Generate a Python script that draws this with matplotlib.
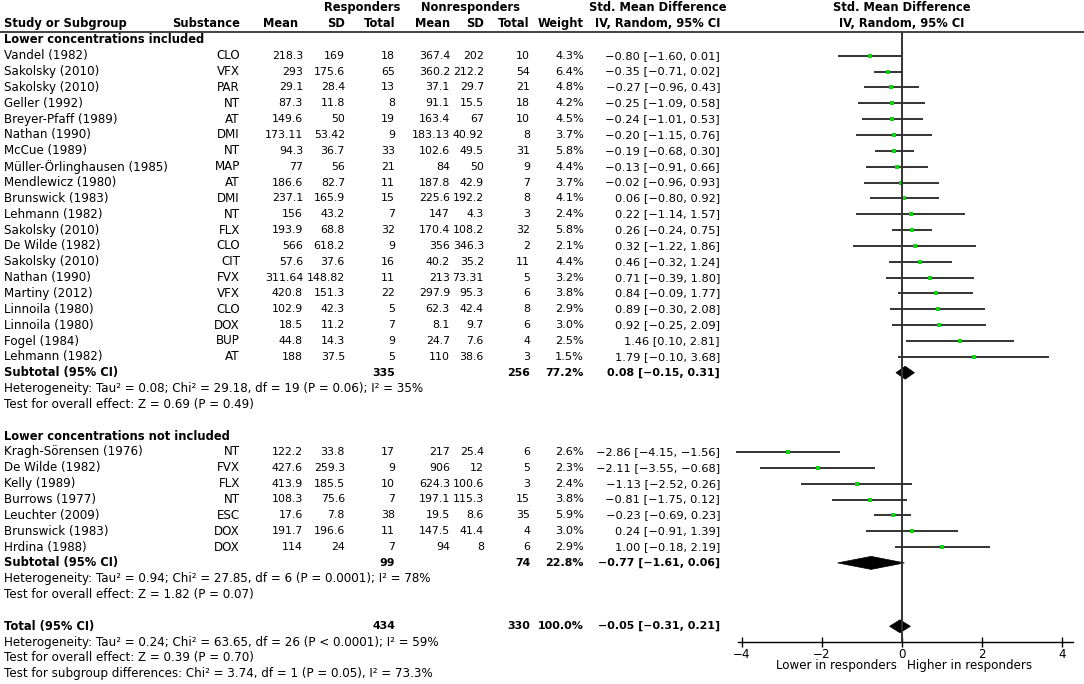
import matplotlib.pyplot as plt
from matplotlib.patches import Polygon

# Lower concentrations included
g1_study = ["Vandel (1982)", "Sakolsky (2010)", "Sakolsky (2010)", "Geller (1992)", "Breyer-Pfaff (1989)",
            "Nathan (1990)", "McCue (1989)", "Müller-Örlinghausen (1985)", "Mendlewicz (1980)", "Brunswick (1983)",
            "Lehmann (1982)", "Sakolsky (2010)", "De Wilde (1982)", "Sakolsky (2010)", "Nathan (1990)",
            "Martiny (2012)", "Linnoila (1980)", "Linnoila (1980)", "Fogel (1984)", "Lehmann (1982)"]
g1_subst = ["CLO", "VFX", "PAR", "NT", "AT", "DMI", "NT", "MAP", "AT", "DMI",
            "NT", "FLX", "CLO", "CIT", "FVX", "VFX", "CLO", "DOX", "BUP", "AT"]
g1_r_mean = [218.3, 293, 29.1, 87.3, 149.6, 173.11, 94.3, 77, 186.6, 237.1,
             156, 193.9, 566, 57.6, 311.64, 420.8, 102.9, 18.5, 44.8, 188]
g1_r_sd = [169, 175.6, 28.4, 11.8, 50, 53.42, 36.7, 56, 82.7, 165.9,
           43.2, 68.8, 618.2, 37.6, 148.82, 151.3, 42.3, 11.2, 14.3, 37.5]
g1_r_n = [18, 65, 13, 8, 19, 9, 33, 21, 11, 15, 7, 32, 9, 16, 11, 22, 5, 7, 9, 5]
g1_n_mean = [367.4, 360.2, 37.1, 91.1, 163.4, 183.13, 102.6, 84, 187.8, 225.6,
             147, 170.4, 356, 40.2, 213, 297.9, 62.3, 8.1, 24.7, 110]
g1_n_sd = [202, 212.2, 29.7, 15.5, 67, 40.92, 49.5, 50, 42.9, 192.2,
           4.3, 108.2, 346.3, 35.2, 73.31, 95.3, 42.4, 9.7, 7.6, 38.6]
g1_n_n = [10, 54, 21, 18, 10, 8, 31, 9, 7, 8, 3, 32, 2, 11, 5, 6, 8, 6, 4, 3]
g1_weight = [4.3, 6.4, 4.8, 4.2, 4.5, 3.7, 5.8, 4.4, 3.7, 4.1,
             2.4, 5.8, 2.1, 4.4, 3.2, 3.8, 2.9, 3.0, 2.5, 1.5]
g1_smd = [-0.80, -0.35, -0.27, -0.25, -0.24, -0.20, -0.19, -0.13, -0.02, 0.06,
          0.22, 0.26, 0.32, 0.46, 0.71, 0.84, 0.89, 0.92, 1.46, 1.79]
g1_lo = [-1.60, -0.71, -0.96, -1.09, -1.01, -1.15, -0.68, -0.91, -0.96, -0.80,
         -1.14, -0.24, -1.22, -0.32, -0.39, -0.09, -0.30, -0.25, 0.10, -0.10]
g1_hi = [0.01, 0.02, 0.43, 0.58, 0.53, 0.76, 0.30, 0.66, 0.93, 0.92,
         1.57, 0.75, 1.86, 1.24, 1.80, 1.77, 2.08, 2.09, 2.81, 3.68]
g1_sub = [335, 256, 77.2, 0.08, -0.15, 0.31]
g1_notes = ["Heterogeneity: Tau² = 0.08; Chi² = 29.18, df = 19 (P = 0.06); I² = 35%",
            "Test for overall effect: Z = 0.69 (P = 0.49)"]

# Lower concentrations not included
g2_study = ["Kragh-Sörensen (1976)", "De Wilde (1982)", "Kelly (1989)", "Burrows (1977)",
            "Leuchter (2009)", "Brunswick (1983)", "Hrdina (1988)"]
g2_subst = ["NT", "FVX", "FLX", "NT", "ESC", "DOX", "DOX"]
g2_r_mean = [122.2, 427.6, 413.9, 108.3, 17.6, 191.7, 114]
g2_r_sd = [33.8, 259.3, 185.5, 75.6, 7.8, 196.6, 24]
g2_r_n = [17, 9, 10, 7, 38, 11, 7]
g2_n_mean = [217, 906, 624.3, 197.1, 19.5, 147.5, 94]
g2_n_sd = [25.4, 12, 100.6, 115.3, 8.6, 41.4, 8]
g2_n_n = [6, 5, 3, 15, 35, 4, 6]
g2_weight = [2.6, 2.3, 2.4, 3.8, 5.9, 3.0, 2.9]
g2_smd = [-2.86, -2.11, -1.13, -0.81, -0.23, 0.24, 1.00]
g2_lo = [-4.15, -3.55, -2.52, -1.75, -0.69, -0.91, -0.18]
g2_hi = [-1.56, -0.68, 0.26, 0.12, 0.23, 1.39, 2.19]
g2_sub = [99, 74, 22.8, -0.77, -1.61, 0.06]
g2_notes = ["Heterogeneity: Tau² = 0.94; Chi² = 27.85, df = 6 (P = 0.0001); I² = 78%",
            "Test for overall effect: Z = 1.82 (P = 0.07)"]

total = [434, 330, 100.0, -0.05, -0.31, 0.21]
total_notes = ["Heterogeneity: Tau² = 0.24; Chi² = 63.65, df = 26 (P < 0.0001); I² = 59%",
               "Test for overall effect: Z = 0.39 (P = 0.70)",
               "Test for subgroup differences: Chi² = 3.74, df = 1 (P = 0.05), I² = 73.3%"]

groups = [("Lower concentrations included", g1_study, g1_subst, g1_r_mean, g1_r_sd, g1_r_n,
           g1_n_mean, g1_n_sd, g1_n_n, g1_weight, g1_smd, g1_lo, g1_hi, g1_sub, g1_notes),
          ("Lower concentrations not included", g2_study, g2_subst, g2_r_mean, g2_r_sd, g2_r_n,
           g2_n_mean, g2_n_sd, g2_n_n, g2_weight, g2_smd, g2_lo, g2_hi, g2_sub, g2_notes)]

# column x positions (pixels) and row geometry
W, H = 1084, 684
x_study, x_subst, x_rm, x_rsd, x_rn = 4, 240, 303, 345, 395
x_nm, x_nsd, x_nn, x_w, x_smd = 450, 484, 530, 584, 720
row0, drow = 39.85, 15.85
fs_txt, fs_num, fs_ci, fs_bold = 8.6, 7.9, 8.2, 8.3
line_col = '#333333'
green = '#12d412'


def num(v):
    return f"{v:g}"


def ci(est, lo, hi):
    return f"{est:.2f} [{lo:.2f}, {hi:.2f}]".replace("-", "−")


fig = plt.figure(figsize=(W / 100, H / 100), dpi=100)
ax0 = fig.add_axes([0, 0, 1, 1])
ax0.set_xlim(0, W)
ax0.set_ylim(H, 0)
ax0.axis('off')

top_line, axis_y = 32.3, 642.2
ax = fig.add_axes([738 / W, (H - axis_y) / H, (1073 - 738) / W, (axis_y - top_line) / H])
ax.set_facecolor('none')
ax.set_xlim(-4.1, 4.275)
ax.set_ylim(axis_y, top_line)


def txt(x, y, s, ha='left', bold=False, fs=fs_txt):
    ax0.text(x, y, s, ha=ha, va='center', fontsize=fs, fontweight='bold' if bold else 'normal')


def diamond(y, est, lo, hi):
    h = 6.5
    ax.add_patch(Polygon([(lo, y), (est, y - h), (hi, y), (est, y + h)], closed=True,
                         facecolor='black', edgecolor='black', lw=0.5))


# header
for s, x in [("Responders", 362), ("Nonresponders", 470), ("Std. Mean Difference", 658), ("Std. Mean Difference", 902)]:
    ax0.text(x, 7.5, s, ha='center', va='center', fontsize=fs_bold, fontweight='bold')
txt(x_study, 23.5, "Study or Subgroup", bold=True, fs=fs_bold)
for s, x in [("Substance", x_subst), ("Mean", x_rm - 5), ("SD", x_rsd), ("Total", x_rn),
             ("Mean", x_nm), ("SD", x_nsd), ("Total", x_nn), ("Weight", x_w)]:
    txt(x, 23.5, s, ha='right', bold=True, fs=fs_bold)
for x in [658, 902]:
    ax0.text(x, 23.5, "IV, Random, 95% CI", ha='center', va='center', fontsize=fs_bold, fontweight='bold')
ax0.plot([0, W], [top_line, top_line], color=line_col, lw=1.3)

r = 0
for (name, study, subst, rm, rsd, rn, nm, nsd, nn, wt, smd, lo, hi, sub, notes) in groups:
    txt(x_study, row0 + r * drow, name, bold=True, fs=fs_bold)
    r += 1
    for i in range(len(study)):
        y = row0 + r * drow
        txt(x_study, y, study[i])
        txt(x_subst, y, subst[i], ha='right')
        txt(x_rm, y, num(rm[i]), ha='right', fs=fs_num)
        txt(x_rsd, y, num(rsd[i]), ha='right', fs=fs_num)
        txt(x_rn, y, num(rn[i]), ha='right', fs=fs_num)
        txt(x_nm, y, num(nm[i]), ha='right', fs=fs_num)
        txt(x_nsd, y, num(nsd[i]), ha='right', fs=fs_num)
        txt(x_nn, y, num(nn[i]), ha='right', fs=fs_num)
        txt(x_w, y, f"{wt[i]:.1f}%", ha='right', fs=fs_ci)
        txt(x_smd, y, ci(smd[i], lo[i], hi[i]), ha='right', fs=fs_ci)
        ax.plot([lo[i], hi[i]], [y, y], color=line_col, lw=1.4, solid_capstyle='butt', clip_on=False)
        ax.plot(smd[i], y, marker='s', color=green, markersize=2.3 + 0.08 * wt[i], mew=0, clip_on=False)
        r += 1
    y = row0 + r * drow
    txt(x_study, y, "Subtotal (95% CI)", bold=True, fs=fs_bold)
    txt(x_rn, y, num(sub[0]), ha='right', bold=True, fs=fs_num)
    txt(x_nn, y, num(sub[1]), ha='right', bold=True, fs=fs_num)
    txt(x_w, y, f"{sub[2]:.1f}%", ha='right', bold=True, fs=fs_num)
    txt(x_smd, y, ci(sub[3], sub[4], sub[5]), ha='right', bold=True, fs=fs_num)
    diamond(y, sub[3], sub[4], sub[5])
    r += 1
    for s in notes:
        txt(x_study, row0 + r * drow, s)
        r += 1
    r += 1

y = row0 + r * drow
txt(x_study, y, "Total (95% CI)", bold=True, fs=fs_bold)
txt(x_rn, y, num(total[0]), ha='right', bold=True, fs=fs_num)
txt(x_nn, y, num(total[1]), ha='right', bold=True, fs=fs_num)
txt(x_w, y, f"{total[2]:.1f}%", ha='right', bold=True, fs=fs_num)
txt(x_smd, y, ci(total[3], total[4], total[5]), ha='right', bold=True, fs=fs_num)
diamond(y, total[3], total[4], total[5])
r += 1
for s in total_notes:
    txt(x_study, row0 + r * drow, s)
    r += 1

ax.axvline(0, color=line_col, lw=1.4)
for side in ['top', 'right', 'left']:
    ax.spines[side].set_visible(False)
ax.spines['bottom'].set_color('black')
ax.spines['bottom'].set_linewidth(1.0)
ax.set_yticks([])
ax.set_xticks([-4, -2, 0, 2, 4])
ax.tick_params(axis='x', direction='inout', length=7, width=1, labelsize=8.6, pad=1)
ax0.text(897, 666, "Lower in responders", ha='right', va='center', fontsize=fs_txt)
ax0.text(907, 666, "Higher in responders", ha='left', va='center', fontsize=fs_txt)

plt.savefig('out.png', dpi=100)
